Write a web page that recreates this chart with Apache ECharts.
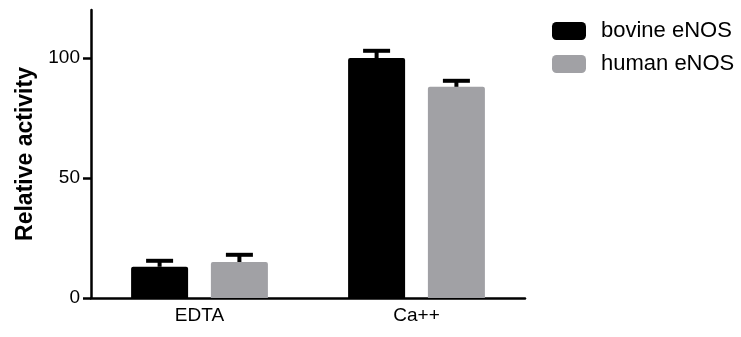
<!DOCTYPE html>
<html>
<head>
<meta charset="utf-8">
<script src="https://cdn.jsdelivr.net/npm/echarts@6/dist/echarts.min.js"></script>
<style>
html,body{margin:0;padding:0;background:#fff;}
#chart{width:741px;height:337px;}
</style>
</head>
<body>
<div id="chart"></div>
<script>
var categories = ['EDTA', 'Ca++'];
var seriesNames = ['bovine eNOS', 'human eNOS'];
var bovineValues = [13, 100];
var bovineErrors = [2.5, 3];
var humanValues = [15, 88];
var humanErrors = [3, 2.5];
var yTicks = [0, 50, 100];

var colors = ['#000000', '#a1a1a5'];
var BAR_W = 57;
var GAP_PCT = 0.4;
var offset = (BAR_W + BAR_W * GAP_PCT) / 2;
var FONT = '"Liberation Sans", Arial, sans-serif';

function errData(vals, errs) {
  return vals.map(function (v, i) { return [i, v, errs[i]]; });
}
function errRender(sign) {
  return function (params, api) {
    var c = api.value(0), v = api.value(1), e = api.value(2);
    var base = api.coord([c, v]);
    var top = api.coord([c, v + e]);
    var x = base[0] + sign * offset;
    var half = 13.5;
    return {
      type: 'group',
      children: [
        {type: 'line', shape: {x1: x, y1: base[1], x2: x, y2: top[1]}, style: {stroke: '#000', lineWidth: 4}},
        {type: 'line', shape: {x1: x - half, y1: top[1], x2: x + half, y2: top[1]}, style: {stroke: '#000', lineWidth: 4}}
      ]
    };
  };
}

var chart = echarts.init(document.getElementById('chart'), null, {renderer: 'canvas'});
chart.setOption({
  animation: false,
  backgroundColor: '#fff',
  grid: {left: 91, right: 216, top: 10, bottom: 39, containLabel: false},
  legend: {
    orient: 'vertical',
    left: 552, top: 20, padding: 0,
    itemWidth: 34, itemHeight: 18, itemGap: 11,
    icon: 'roundRect',
    data: seriesNames,
    textStyle: {fontFamily: FONT, fontSize: 22, color: '#000', padding: [0, 0, 0, 10]}
  },
  xAxis: {
    type: 'category',
    data: categories,
    axisLine: {lineStyle: {color: '#000', width: 2.5}},
    axisTick: {alignWithLabel: true, length: 7, lineStyle: {color: '#000', width: 2.5}},
    axisLabel: {fontFamily: FONT, fontSize: 19, color: '#000', margin: 8}
  },
  yAxis: {
    type: 'value',
    min: 0, max: 120,
    name: 'Relative activity',
    nameLocation: 'middle',
    nameGap: 54,
    nameTextStyle: {fontFamily: FONT, fontSize: 23, fontWeight: 'bold', color: '#000'},
    splitLine: {show: false},
    axisLine: {show: true, lineStyle: {color: '#000', width: 2.5}},
    axisTick: {show: true, length: 8, customValues: yTicks, lineStyle: {color: '#000', width: 2.5}},
    axisLabel: {fontFamily: FONT, fontSize: 19, color: '#000', margin: 11, customValues: yTicks}
  },
  series: [
    {name: seriesNames[0], type: 'bar', data: bovineValues, barWidth: BAR_W, barGap: '40%',
     itemStyle: {color: colors[0], borderRadius: [2, 2, 0, 0]}},
    {name: seriesNames[1], type: 'bar', data: humanValues, barWidth: BAR_W,
     itemStyle: {color: colors[1], borderRadius: [2, 2, 0, 0]}},
    {type: 'custom', renderItem: errRender(-1), data: errData(bovineValues, bovineErrors), z: 5, silent: true},
    {type: 'custom', renderItem: errRender(1), data: errData(humanValues, humanErrors), z: 5, silent: true}
  ]
});
</script>
</body>
</html>
